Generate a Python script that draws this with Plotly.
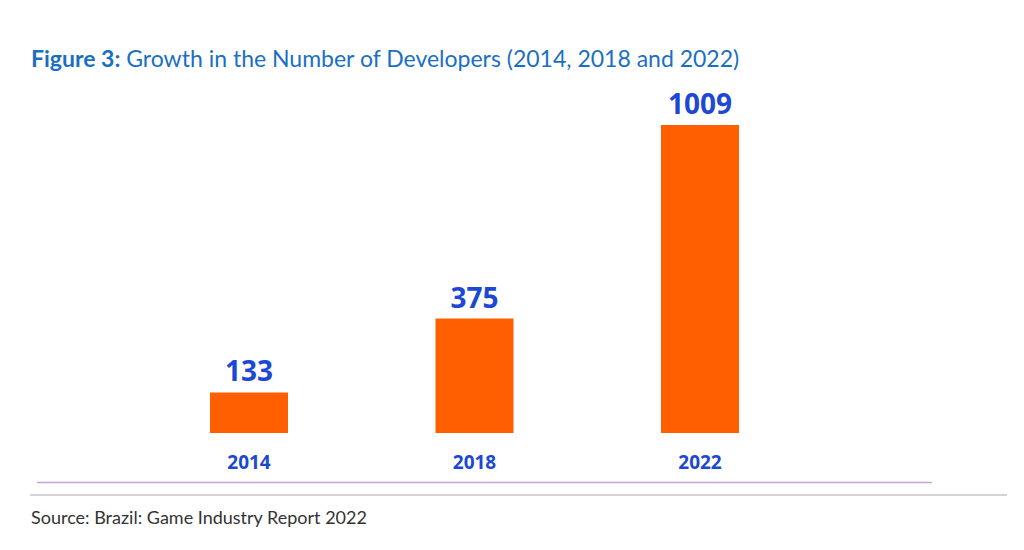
import plotly.graph_objects as go

years = ["2014", "2018", "2022"]
developers = [133, 375, 1009]

W, H = 1024, 550
OFF = 8  # page body margin
BOTTOM = 433 - OFF  # pixel of plot bottom in figure coordinates

def py(p):
    return (BOTTOM - (p - OFF)) / BOTTOM

def px(p):
    return (p - OFF) / W

fig = go.Figure()
fig.add_trace(go.Bar(
    x=[0, 1, 2],
    y=developers,
    width=0.346,
    marker=dict(color="#ff5f00", line=dict(width=0)),
    text=[str(v) for v in developers],
    texttemplate="<b>%{text}</b>",
    textposition="outside",
    cliponaxis=False,
    textfont=dict(family="Open Sans", size=28, color="#1c48d4"),
    hoverinfo="skip",
))

a = -(249 - OFF) / 225.5
fig.update_xaxes(
    range=[a, a + W / 225.5],
    tickmode="array", tickvals=[0, 1, 2],
    ticktext=["<b>%s</b>" % y for y in years],
    tickfont=dict(family="Open Sans", size=19, color="#1c48d4"),
    ticks="outside", ticklen=12, tickcolor="rgba(0,0,0,0)",
    showgrid=False, zeroline=False, showline=False, fixedrange=True,
)
fig.update_yaxes(range=[0, BOTTOM / (308 / 1009)], visible=False, showgrid=False, zeroline=False)

fig.add_shape(type="line", xref="paper", yref="paper",
              x0=px(37), x1=px(932), y0=py(482.5), y1=py(482.5),
              line=dict(color="#c2a6d6", width=1.5))
fig.add_shape(type="line", xref="paper", yref="paper",
              x0=px(30), x1=px(1007), y0=py(495), y1=py(495),
              line=dict(color="#c4c4c4", width=1.5))

fig.add_annotation(xref="paper", yref="paper", x=px(29), y=py(58),
                   xanchor="left", yanchor="middle", showarrow=False,
                   text="<b>Figure 3:</b> Growth in the Number of Developers (2014, 2018 and 2022)",
                   font=dict(family="Lato", size=23, color="#1b6fc2"))
fig.add_annotation(xref="paper", yref="paper", x=px(29), y=py(517),
                   xanchor="left", yanchor="middle", showarrow=False,
                   text="Source: Brazil: Game Industry Report 2022",
                   font=dict(family="Lato", size=18, color="#333333"))

fig.update_layout(
    width=W, height=H,
    margin=dict(l=0, r=0, t=0, b=H - BOTTOM, pad=0),
    paper_bgcolor="white", plot_bgcolor="white",
    showlegend=False,
)
fig.write_html("out.html")
